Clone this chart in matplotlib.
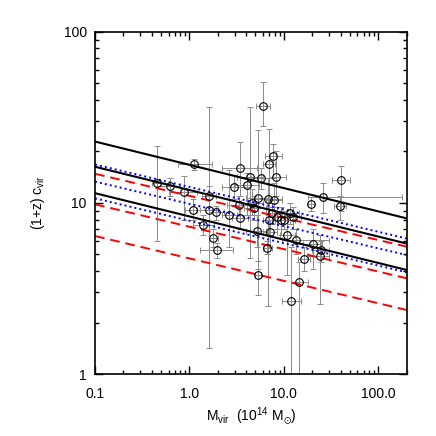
import numpy as np
import matplotlib.pyplot as plt
from matplotlib.ticker import FixedLocator, NullFormatter, LogLocator

# cluster measurements: M_vir (1e14 Msun), (1+z) c_vir, and error bounds
mass = [0.45, 0.62, 0.88, 1.08, 1.13, 1.40, 1.60, 1.60, 1.79, 1.94,
        1.91, 2.64, 2.98, 3.44, 3.36, 3.44, 4.02, 4.35, 4.57, 4.83,
        5.15, 5.32, 5.32, 5.68, 6.01, 6.68, 6.95, 6.85, 6.95, 7.12,
        7.73, 7.85, 8.17, 7.54, 8.5, 9.23, 10.0, 11.7, 12.5, 10.8,
        13.3, 11.9, 14.4, 16.2, 19.5, 20.2, 24.3, 24.7, 25.7, 40.2,
        38.9]
conc = [13.1, 12.5, 11.6, 9.1, 16.9, 7.4, 9.1, 11.0, 6.2, 5.3,
        8.8, 8.5, 12.4, 16.0, 9.7, 8.2, 12.8, 14.1, 10.0, 9.35,
        6.9, 10.7, 3.77, 13.9, 36.8, 5.45, 16.8, 10.5, 7.9, 6.76,
        18.7, 10.4, 14.2, 8.7, 8.3, 7.9, 8.0, 8.7, 8.3, 6.47,
        6.04, 2.69, 3.47, 4.68, 9.9, 5.73, 4.93, 5.33, 10.9, 13.6,
        9.63]
mass_lo = [0.40, 0.45, 0.60, 0.90, 0.75, 1.10, 1.20, 1.35, 1.60, 1.30,
           1.60, 2.20, 2.20, 2.20, 2.50, 2.80, 3.00, 3.20, 3.50, 3.80,
           4.00, 4.00, 5.00, 4.50, 5.10, 6.00, 6.00, 5.00, 6.00, 6.00,
           6.30, 6.50, 7.00, 6.50, 7.00, 8.00, 8.00, 9.50, 10.0, 9.00,
           9.50, 9.50, 12.0, 14.0, 18.0, 16.0, 18.0, 20.0, 18.0, 32.0,
           34.0]
mass_hi = [0.50, 0.80, 1.20, 1.30, 1.75, 1.80, 2.00, 1.90, 2.00, 2.90,
           2.30, 3.20, 4.40, 5.20, 4.50, 4.20, 5.50, 6.00, 6.00, 6.50,
           6.50, 7.00, 5.70, 7.00, 7.20, 7.40, 8.00, 9.50, 8.00, 8.50,
           9.50, 9.50, 10.5, 9.00, 10.0, 11.0, 13.0, 14.5, 15.0, 13.0,
           30.0, 15.0, 18.0, 19.0, 21.0, 25.0, 30.0, 30.0, 176.0, 50.0,
           45.0]
conc_lo = [6.0, 11.0, 8.0, 8.0, 15.5, 6.5, 1.43, 9.5, 5.5, 4.8,
           8.0, 5.5, 10.5, 11.0, 8.5, 7.0, 8.5, 4.74, 8.5, 8.0,
           5.5, 4.14, 2.9, 12.0, 28.1, 5.0, 8.5, 2.5, 6.5, 5.5,
           14.0, 8.0, 11.0, 7.5, 7.0, 6.5, 7.0, 7.5, 7.0, 3.8,
           5.0, 0.9, 0.9, 4.0, 9.0, 4.1, 2.58, 4.5, 8.7, 9.0,
           8.0]
conc_hi = [21.5, 14.0, 14.3, 10.5, 18.0, 8.5, 36.2, 12.5, 7.0, 5.8,
           9.6, 15.5, 14.5, 22.6, 11.0, 9.5, 15.0, 36.5, 12.0, 11.0,
           8.5, 26.6, 4.6, 16.0, 51.2, 6.0, 27.0, 14.0, 9.5, 8.0,
           22.0, 13.0, 20.0, 10.0, 9.5, 9.5, 9.0, 10.0, 9.5, 8.5,
           7.0, 5.5, 4.5, 5.5, 10.8, 7.0, 6.5, 6.0, 13.0, 16.5,
           11.0]

# c-M relations: value at M = 1e14 Msun and log slope (upper, mean, lower)
black_norm = [16.7, 11.9, 8.34]
black_slope = [-0.136, -0.136, -0.136]
blue_norm = [12.4, 9.88, 7.87]
blue_slope = [-0.131, -0.130, -0.131]
red_norm = [11.0, 7.26, 4.74]
red_slope = [-0.129, -0.131, -0.131]

plt.rcParams['font.family'] = ['Liberation Sans', 'DejaVu Sans']
plt.rcParams['mathtext.default'] = 'regular'

fig = plt.figure(figsize=(4.36, 4.36), dpi=100)
ax = fig.add_axes([0.218, 0.142, 0.715, 0.785])

m = np.array(mass)
c = np.array(conc)
xerr = [m - np.array(mass_lo), np.array(mass_hi) - m]
yerr = [c - np.array(conc_lo), np.array(conc_hi) - c]
ax.errorbar(m, c, xerr=xerr, yerr=yerr, fmt='none', ecolor='0.55',
            elinewidth=0.7, capsize=2.5, capthick=0.7, zorder=1)
ax.plot(m, c, 'o', mfc='none', mec='black', ms=5.5, mew=0.8, zorder=3)

mgrid = np.array([0.1, 200.0])
for norm, slope in zip(red_norm, red_slope):
    ax.plot(mgrid, norm * mgrid ** slope, color='red', ls=(0, (5, 3)), lw=1.4, zorder=2)
for norm, slope in zip(blue_norm, blue_slope):
    ax.plot(mgrid, norm * mgrid ** slope, color='blue', ls=(0, (1, 1.6)), lw=1.4, zorder=2)
for norm, slope in zip(black_norm, black_slope):
    ax.plot(mgrid, norm * mgrid ** slope, color='black', ls='-', lw=1.5, zorder=2)

ax.set_xscale('log')
ax.set_yscale('log')
ax.set_xlim(0.1, 200)
ax.set_ylim(1, 100)
ax.xaxis.set_major_locator(FixedLocator([0.1, 1, 10, 100]))
ax.set_xticklabels(['0.1', '1.0', '10.0', '100.0'])
ax.yaxis.set_major_locator(FixedLocator([1, 10, 100]))
ax.set_yticklabels(['1', '10', '100'])
ax.xaxis.set_minor_locator(LogLocator(base=10, subs=np.arange(2, 10)))
ax.yaxis.set_minor_locator(LogLocator(base=10, subs=np.arange(2, 10)))
ax.xaxis.set_minor_formatter(NullFormatter())
ax.yaxis.set_minor_formatter(NullFormatter())
ax.tick_params(which='both', direction='in', top=True, right=True, labelsize=10, width=1)
ax.tick_params(which='major', length=5.5)
ax.tick_params(which='minor', length=3)
ax.tick_params(axis='x', which='major', pad=9)
ax.tick_params(axis='y', which='major', pad=6)
for s in ax.spines.values():
    s.set_linewidth(1.2)

ax.set_xlabel(r'M$_{vir}$  (10$^{14}$ M$_{\odot}$)', fontsize=10, labelpad=3)
ax.set_ylabel(r'(1+z) c$_{vir}$', fontsize=10, labelpad=12)

fig.savefig('out.png', dpi=100)
